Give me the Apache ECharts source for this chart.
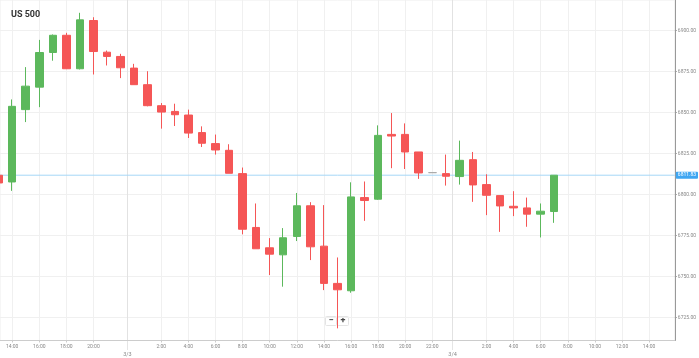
<!DOCTYPE html>
<html><head><meta charset="utf-8">
<script src="https://cdn.jsdelivr.net/npm/echarts@6/dist/echarts.min.js"></script>
<style>html,body{margin:0;padding:0;background:#fff}#c{width:699px;height:358px}</style>
</head><body><div id="c"></div>
<script>
const chartTitle = 'US 500';
// hourly slots (market-hour index), OHLC values
const slots  = [-1,0,1,2,3,4,5,6,7,8,9,10,11,12,13,14,15,16,17,18,19,20,21,22,23,24,25,26,27,28,29,30,31,32,33,34,35,36,37,38,39,40];
const opens  = [6811.8,6807.7,6851.8,6865.5,6886.6,6897.1,6876.7,6906.1,6886.8,6884.2,6877.1,6867.0,6854.2,6850.7,6848.5,6837.8,6831.1,6827.0,6812.8,6780.0,6767.6,6763.3,6774.5,6793.2,6768.6,6745.9,6741.4,6798.2,6797.2,6836.7,6836.7,6826.0,6813.4,6812.8,6811.0,6821.3,6806.1,6799.4,6792.9,6791.9,6788.1,6789.7];
const closes = [6807.1,6853.8,6866.1,6886.6,6897.1,6876.7,6906.5,6887.2,6884.2,6877.3,6867.0,6854.2,6850.3,6848.7,6837.5,6831.3,6827.2,6813.0,6778.9,6767.0,6763.7,6773.7,6793.2,6768.2,6745.9,6742.0,6798.6,6796.4,6836.1,6835.7,6826.0,6813.2,6813.4,6811.2,6820.9,6805.9,6799.6,6793.1,6791.9,6788.1,6789.9,6811.83];
const lows   = [6805.0,6802.3,6844.2,6853.3,6881.6,6876.5,6876.3,6873.2,6878.7,6871.0,6867.0,6853.8,6840.2,6841.8,6834.5,6829.0,6824.4,6813.0,6775.8,6767.0,6751.0,6743.9,6771.7,6760.1,6741.8,6718.5,6740.2,6784.0,6796.8,6816.1,6815.6,6809.6,6813.4,6805.5,6806.1,6795.6,6787.5,6777.3,6786.9,6780.4,6773.9,6782.8];
const highs  = [6813.0,6858.0,6877.7,6894.3,6897.6,6898.6,6910.8,6908.1,6887.8,6885.8,6879.7,6875.2,6855.8,6855.4,6851.8,6841.6,6836.6,6830.7,6816.5,6794.6,6773.5,6779.6,6801.0,6795.4,6793.6,6761.7,6807.5,6808.0,6842.2,6849.7,6843.4,6826.0,6813.4,6824.4,6832.9,6826.0,6812.4,6799.4,6802.1,6798.2,6794.6,6811.83];
const timeTickSlots  = [0,2,4,6,11,13,15,17,19,21,23,25,27,29,31,35,37,39,41,43,45,47];
const timeTickLabels = ['14:00','16:00','18:00','20:00','2:00','4:00','6:00','8:00','10:00','12:00','14:00','16:00','18:00','20:00','22:00','2:00','4:00','6:00','8:00','10:00','12:00','14:00'];
const dateSlots  = [8.5, 32.5];
const dateLabels = ['3/3','3/4'];
const priceTicks = [6725,6750,6775,6800,6825,6850,6875,6900];
const lastPrice = 6811.83;

const data = slots.map((s, i) => [s, opens[i], closes[i], lows[i], highs[i]]);
const FONT = 'Roboto, "Noto Sans", sans-serif';
const xMin = -0.9, xMax = 48.9, yMin = 6711.1, yMax = 6918.6;

const chart = echarts.init(document.getElementById('c'), null, {renderer: 'canvas'});
chart.setOption({
  animation: false,
  backgroundColor: '#fff',
  title: {text: chartTitle, left: 6, top: 5, textStyle: {fontSize: 9, fontWeight: 'bold', color: '#333', fontFamily: FONT}},
  grid: {left: 0, right: 24, top: 0, bottom: 17.5, show: true, borderColor: '#eee', borderWidth: 1},
  xAxis: [{
    type: 'value', min: xMin, max: xMax, position: 'bottom',
    axisLine: {show: true, onZero: false, lineStyle: {color: '#ccc', width: 1}},
    axisTick: {show: true, length: 2, customValues: timeTickSlots, lineStyle: {color: '#ccc'}},
    axisLabel: {customValues: timeTickSlots, fontSize: 5, color: '#888', margin: 4, fontFamily: FONT,
      formatter: v => { const i = timeTickSlots.indexOf(v); return i >= 0 ? timeTickLabels[i] : ''; }},
    splitLine: {show: true, lineStyle: {color: '#f0f0f0', width: 1}}
  }, {
    type: 'value', min: xMin, max: xMax, position: 'bottom',
    axisLine: {show: false, onZero: false},
    axisTick: {show: true, length: 9, customValues: dateSlots, lineStyle: {color: '#ccc', type: 'dotted'}},
    axisLabel: {customValues: dateSlots, fontSize: 5.5, color: '#888', margin: 11, fontFamily: FONT,
      formatter: v => { const i = dateSlots.indexOf(v); return i >= 0 ? dateLabels[i] : ''; }},
    splitLine: {show: true, lineStyle: {color: '#e2e2e2', width: 1}}
  }],
  yAxis: {
    type: 'value', position: 'right', min: yMin, max: yMax, scale: true,
    axisLine: {show: true, onZero: false, lineStyle: {color: '#999', width: 1}},
    axisTick: {show: true, length: 2, customValues: priceTicks, lineStyle: {color: '#999'}},
    axisLabel: {customValues: priceTicks, fontSize: 5, color: '#888', margin: 3, fontFamily: FONT,
      formatter: v => v.toFixed(2)},
    splitLine: {show: true, lineStyle: {color: '#f0f0f0', width: 1}}
  },
  series: [{
    type: 'line',
    xAxisIndex: 0, yAxisIndex: 0,
    data: [[xMin, lastPrice], [xMax, lastPrice]],
    symbol: 'none', silent: true, clip: false, z: 1,
    lineStyle: {color: '#a6d7f7', width: 1, type: 'solid'},
    itemStyle: {color: '#a6d7f7'},
    endLabel: {show: true, distance: 1, fontSize: 5, color: '#fff', fontFamily: FONT,
      backgroundColor: '#3ea6f2', padding: [1, 2, 1, 2], borderRadius: 1,
      formatter: () => lastPrice.toFixed(2)}
  }, {
    type: 'candlestick',
    xAxisIndex: 0, yAxisIndex: 0,
    encode: {x: 0, y: [1, 2, 3, 4]},
    barWidth: 8, z: 3,
    data: data,
    itemStyle: {
      color: '#5cb85c', color0: '#f55656',
      borderColor: '#5cb85c', borderColor0: '#f55656',
      borderColorDoji: '#aaa', borderWidth: 1
    }
  }],
  graphic: [{
    type: 'group', left: 325, top: 316,
    children: [
      {type: 'rect', shape: {x: 0, y: 0, width: 11, height: 9, r: 1}, style: {fill: '#fff', stroke: '#e4e4e4', lineWidth: 1}},
      {type: 'rect', shape: {x: 12, y: 0, width: 11, height: 9, r: 1}, style: {fill: '#fff', stroke: '#e4e4e4', lineWidth: 1}},
      {type: 'text', x: 5.5, y: 4.5, style: {text: '−', fontSize: 9, fontWeight: 'bold', fill: '#444', align: 'center', verticalAlign: 'middle', fontFamily: FONT}},
      {type: 'text', x: 17.5, y: 4.5, style: {text: '+', fontSize: 9, fontWeight: 'bold', fill: '#444', align: 'center', verticalAlign: 'middle', fontFamily: FONT}}
    ]
  }]
});
</script>
</body></html>
